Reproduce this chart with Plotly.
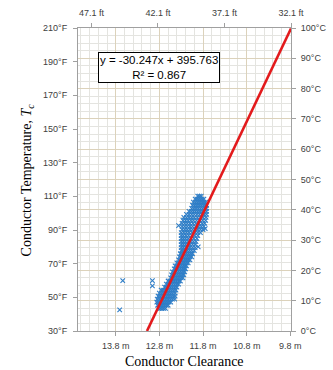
import plotly.graph_objects as go

# ---- data ----
# rows of the dense cluster: temperature level (°C) and the clearances (m) seen at that level
row_temp_c = [7.5, 8.5, 9.5, 10.5, 11.5, 12.5, 13.5,
              14.5, 15.5, 16.5, 17.5, 18.5, 19.5, 20.5, 21.5, 22.5,
              23.5, 24.5, 25.5, 26.5, 27.5, 28.5, 29.5, 30.5, 31.5,
              32.5, 33.5, 34.5, 35.5, 36.5, 37.5, 38.5, 39.5, 40.5, 41.5, 42.5, 43.5, 44.5]
row_clearance_m = [
    [12.82, 12.78, 12.74, 12.70, 12.66],
    [12.84, 12.80, 12.76, 12.72, 12.68, 12.64, 12.60],
    [12.86, 12.82, 12.78, 12.74, 12.70, 12.66, 12.62, 12.58, 12.54],
    [12.85, 12.80, 12.75, 12.70, 12.65, 12.60, 12.55, 12.50, 12.45],
    [12.83, 12.78, 12.73, 12.68, 12.63, 12.58, 12.53, 12.48, 12.44],
    [12.80, 12.75, 12.70, 12.65, 12.60, 12.55, 12.50, 12.44],
    [12.76, 12.72, 12.67, 12.62, 12.57, 12.52, 12.47, 12.42],
    [12.68, 12.64, 12.60, 12.55, 12.50, 12.45, 12.40],
    [12.64, 12.60, 12.55, 12.50, 12.45, 12.40, 12.36],
    [12.60, 12.56, 12.51, 12.46, 12.41, 12.36, 12.32],
    [12.54, 12.50, 12.45, 12.40, 12.35, 12.30, 12.26],
    [12.52, 12.48, 12.43, 12.38, 12.33, 12.28, 12.24],
    [12.50, 12.46, 12.41, 12.36, 12.31, 12.26, 12.22],
    [12.46, 12.42, 12.37, 12.32, 12.27, 12.23, 12.20],
    [12.44, 12.40, 12.35, 12.30, 12.25, 12.21, 12.18],
    [12.40, 12.36, 12.31, 12.26, 12.22, 12.18, 12.14],
    [12.36, 12.32, 12.27, 12.22, 12.18, 12.14, 12.10],
    [12.34, 12.30, 12.25, 12.20, 12.15, 12.10, 12.06],
    [12.32, 12.28, 12.23, 12.18, 12.13, 12.08, 12.04],
    [12.30, 12.26, 12.21, 12.16, 12.11, 12.06, 12.00],
    [12.30, 12.25, 12.20, 12.15, 12.10, 12.04, 11.98],
    [12.30, 12.25, 12.20, 12.15, 12.10, 12.04, 11.98],
    [12.30, 12.25, 12.20, 12.14, 12.08, 12.02, 11.96],
    [12.30, 12.25, 12.20, 12.14, 12.08, 12.01, 11.94],
    [12.30, 12.25, 12.19, 12.13, 12.06, 11.99, 11.92],
    [12.30, 12.24, 12.18, 12.12, 12.05, 11.98, 11.92, 11.86],
    [12.28, 12.22, 12.16, 12.10, 12.04, 11.98, 11.92, 11.86, 11.80],
    [12.28, 12.22, 12.16, 12.10, 12.04, 11.97, 11.90, 11.84, 11.78],
    [12.28, 12.22, 12.16, 12.10, 12.03, 11.96, 11.89, 11.82, 11.76],
    [12.26, 12.20, 12.14, 12.08, 12.02, 11.95, 11.88, 11.81, 11.74],
    [12.24, 12.18, 12.12, 12.06, 12.00, 11.93, 11.86, 11.80, 11.73],
    [12.18, 12.12, 12.06, 12.00, 11.94, 11.88, 11.82, 11.77, 11.72],
    [12.12, 12.07, 12.02, 11.97, 11.92, 11.87, 11.82, 11.77, 11.72],
    [12.06, 12.01, 11.96, 11.91, 11.86, 11.81, 11.76, 11.72],
    [12.04, 11.99, 11.94, 11.89, 11.84, 11.79, 11.75, 11.72],
    [12.02, 11.97, 11.92, 11.87, 11.82, 11.78, 11.74],
    [11.98, 11.94, 11.90, 11.86, 11.82, 11.78],
    [11.92, 11.88, 11.84],
]
# isolated points
outlier_clearance_m = [13.64, 13.71, 12.96, 12.96, 12.36, 11.91, 11.75]
outlier_temp_c = [16.6, 7.0, 16.6, 14.9, 34.8, 27.8, 33.8]

# regression (°C vs m)
slope = -30.247
intercept = 395.763
r2 = 0.867

# axes ticks
m_ticks = [13.8, 12.8, 11.8, 10.8, 9.8]
ft_ticks = [47.1, 42.1, 37.1, 32.1]
c_ticks = [0, 10, 20, 30, 40, 50, 60, 70, 80, 90, 100]
f_ticks = [30, 50, 70, 90, 110, 130, 150, 170, 190, 210]
x_range_m = [14.665, 9.784]
FT_PER_M = 3.28084

# ---- build ----
xs, ys = [], []
for t, row in zip(row_temp_c, row_clearance_m):
    for c in row:
        xs.append(c)
        ys.append(t)
xs += outlier_clearance_m
ys += outlier_temp_c

blue = "#2f7ec7"
fig = go.Figure()
fig.add_trace(go.Scatter(
    x=xs, y=ys, mode="markers",
    marker=dict(symbol="x-thin", size=4.5, line=dict(width=1.1, color=blue), color=blue),
    hoverinfo="skip", showlegend=False))

x0 = intercept / (-slope)
x1 = x_range_m[1]
fig.add_trace(go.Scatter(
    x=[x0, x1], y=[slope * x0 + intercept, slope * x1 + intercept],
    mode="lines", line=dict(color="#e31a1c", width=2.6),
    hoverinfo="skip", showlegend=False))

# invisible trace to activate overlay axes
fig.add_trace(go.Scatter(x=[x_range_m[0]], y=[f_ticks[0]], xaxis="x2", yaxis="y2",
                         mode="markers", marker=dict(opacity=0), hoverinfo="skip",
                         showlegend=False))

tickfont = dict(family="Liberation Sans, Arial, sans-serif", size=9, color="#404040")
axis_line = "#a0a0a0"
major_grid = "#dcd2bb"
minor_grid = "#e4e4e0"

common = dict(showline=True, linecolor=axis_line, linewidth=1, ticks="outside", ticklen=4,
              tickcolor=axis_line, tickfont=tickfont, zeroline=False, automargin=False)

fig.update_layout(
    width=333, height=370,
    margin=dict(l=78, r=42, t=28, b=39, autoexpand=False),
    paper_bgcolor="white", plot_bgcolor="white",
    xaxis=dict(
        range=x_range_m, tickvals=m_ticks, ticktext=[f"{v:.1f} m" for v in m_ticks],
        showgrid=True, gridcolor=major_grid, gridwidth=1,
        minor=dict(tick0=9.8, dtick=0.2, showgrid=True, gridcolor=minor_grid, gridwidth=1, ticks=""),
        ticklabelstandoff=2, **common,
    ),
    xaxis2=dict(
        overlaying="x", side="top", anchor="y", range=x_range_m,
        tickvals=[v / FT_PER_M for v in ft_ticks], ticktext=[f"{v:.1f} ft" for v in ft_ticks],
        showgrid=False, ticklabelstandoff=3, **common,
    ),
    yaxis=dict(
        side="right", range=[0, 100], tickvals=c_ticks, ticktext=[f"{v}°C" for v in c_ticks],
        showgrid=True, gridcolor=major_grid, gridwidth=1,
        minor=dict(tick0=0, dtick=2.5, showgrid=True, gridcolor=minor_grid, gridwidth=1, ticks=""),
        ticklabelstandoff=3, **common,
    ),
    yaxis2=dict(
        overlaying="y", side="left", anchor="x", range=[30, 210],
        tickvals=f_ticks, ticktext=[f"{v}°F" for v in f_ticks],
        showgrid=False, ticklabelstandoff=4, **common,
    ),
    annotations=[
        dict(xref="paper", yref="paper", x=0.38, y=0.871, xanchor="center", yanchor="middle",
             text=f"y = {slope:.3f}x + {intercept:.3f}<br>R² = {r2:.3f}",
             showarrow=False, align="center", bgcolor="white", bordercolor="#000000",
             borderwidth=1, borderpad=1,
             font=dict(family="Liberation Sans, Arial, sans-serif", size=11.5, color="#000000")),
        dict(xref="paper", yref="paper", x=0.5, y=-0.1, xanchor="center", yanchor="middle",
             text="Conductor Clearance", showarrow=False,
             font=dict(family="Liberation Serif, Times New Roman, serif", size=14, color="#000000")),
        dict(xref="paper", yref="paper", x=-0.235, y=0.5, xanchor="center", yanchor="middle",
             text="Conductor Temperature, <i>T</i><sub><i>c</i></sub>", textangle=-90, showarrow=False,
             font=dict(family="Liberation Serif, Times New Roman, serif", size=14, color="#000000")),
    ],
)

fig.write_html("out.html", config={"displayModeBar": False},
               post_script="document.body.style.margin='0px';")
